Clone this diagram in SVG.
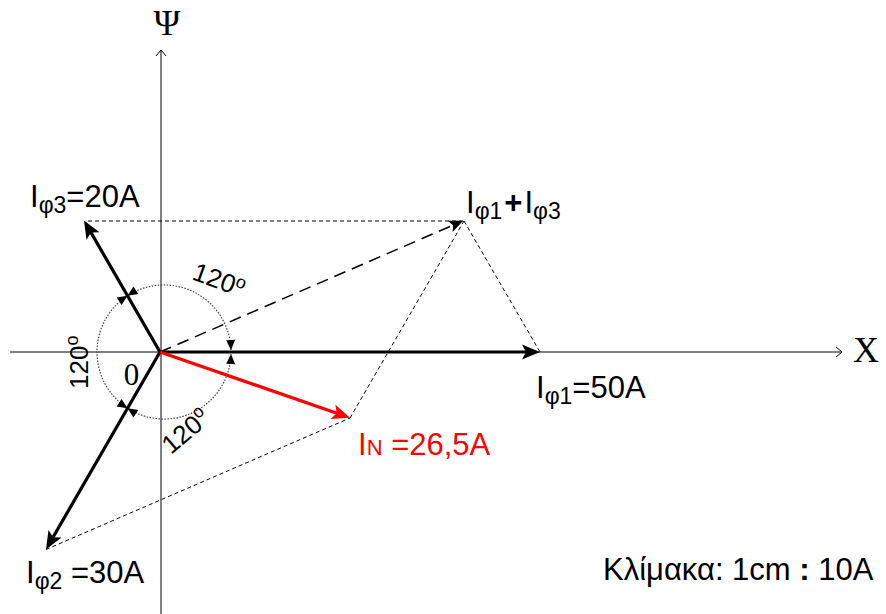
<svg xmlns="http://www.w3.org/2000/svg" width="886" height="614" viewBox="0 0 886 614">
<style>
.lbl{font-family:"Liberation Sans",Arial,sans-serif;font-size:31px;fill:#000}
.sub{font-size:23px}
.ang{font-family:"Liberation Sans",Arial,sans-serif;font-size:26px;fill:#000}
.deg{font-size:18px}
.ser{font-family:"Liberation Serif","Times New Roman",serif;fill:#000}
.axis{stroke:#000;stroke-width:1;fill:none}
.vec{stroke:#000;stroke-width:3.2;fill:none}
.red{stroke:#ff0000;stroke-width:3.2;fill:none}
.ldash{stroke:#000;stroke-width:1.5;stroke-dasharray:12,7;fill:none}
.sdash{stroke:#000;stroke-width:1;stroke-dasharray:4,3;fill:none}
.arc{stroke:#444;stroke-width:1.2;stroke-dasharray:1.5,1.5;fill:none}
</style>
<defs>
<marker id="ah" markerUnits="userSpaceOnUse" viewBox="-20 -10 22 20" markerWidth="22" markerHeight="20" refX="-10" refY="0" orient="auto">
<path d="M0,0 L-18,-7.5 L-14,0 L-18,7.5 z" fill="#000"/>
</marker>
<marker id="ahr" markerUnits="userSpaceOnUse" viewBox="-20 -10 22 20" markerWidth="22" markerHeight="20" refX="-10" refY="0" orient="auto">
<path d="M0,0 L-18,-7.5 L-14,0 L-18,7.5 z" fill="#ff0000"/>
</marker>
<marker id="ahs" markerUnits="userSpaceOnUse" viewBox="-16 -8 18 16" markerWidth="18" markerHeight="16" refX="-7" refY="0" orient="auto">
<path d="M0,0 L-14,-6 L-11,0 L-14,6 z" fill="#000"/>
</marker>
<marker id="aa" markerUnits="userSpaceOnUse" viewBox="-12 -6 14 12" markerWidth="14" markerHeight="12" refX="0" refY="0" orient="auto-start-reverse">
<path d="M0,0 L-10,-4.5 L-10,4.5 z" fill="#000"/>
</marker>
<marker id="open" markerUnits="userSpaceOnUse" viewBox="-10 -8 12 16" markerWidth="12" markerHeight="16" refX="0" refY="0" orient="auto">
<path d="M-6,-5 L0,0 L-6,5" fill="none" stroke="#000" stroke-width="1"/>
</marker>
</defs>
<g id="connectors">
<line class="axis" x1="10" y1="352" x2="842" y2="352" marker-end="url(#open)"/>
<line class="axis" x1="161" y1="614" x2="161" y2="50" marker-end="url(#open)"/>
<line class="sdash" x1="88" y1="221" x2="464" y2="221"/>
<line class="sdash" x1="464" y1="221" x2="540" y2="352"/>
<line class="sdash" x1="350" y1="418" x2="464" y2="221"/>
<line class="sdash" x1="46" y1="549.5" x2="350" y2="418"/>
<path class="arc" d="M231,350 A67,67 0 0 0 127.5,295.8" marker-start="url(#aa)" marker-end="url(#aa)"/>
<path class="arc" d="M127.5,295.8 A67,67 0 0 0 127.5,408.2" marker-start="url(#aa)" marker-end="url(#aa)"/>
<path class="arc" d="M127.5,408.2 A67,67 0 0 0 231,354" marker-start="url(#aa)" marker-end="url(#aa)"/>
<line class="ldash" x1="160" y1="352" x2="456.7" y2="223.6" marker-end="url(#ahs)"/>
<line class="vec" x1="160" y1="352" x2="530" y2="352" stroke-width="3.8" marker-end="url(#ah)"/>
<line class="vec" x1="160" y1="352" x2="89" y2="229.1" marker-end="url(#ah)"/>
<line class="vec" x1="160" y1="352" x2="51" y2="540.8" marker-end="url(#ah)"/>
<line class="red" x1="160" y1="352" x2="340.5" y2="414.5" marker-end="url(#ahr)"/>
</g>
<g id="axis-labels">
<text class="ser" x="167" y="35" font-size="36" text-anchor="middle">Ψ</text>
<text class="ser" x="853" y="362" font-size="36">X</text>
<text class="ser" x="131.5" y="385" font-size="31" text-anchor="middle">0</text>
</g>
<g id="angle-labels">
<text class="ang" transform="translate(191,279) rotate(20)">120<tspan class="deg" dy="-8">o</tspan></text>
<text class="ang" transform="translate(88,389) rotate(-90)">120<tspan class="deg" dy="-10">o</tspan></text>
<text class="ang" transform="translate(171,455) rotate(-40)">120<tspan class="deg" dy="-10">o</tspan></text>
</g>
<g id="I3">
<text class="lbl" x="30" y="207">I<tspan class="sub" dy="6">φ3</tspan><tspan dy="-6">=20A</tspan></text>
</g>
<g id="Isum">
<text class="lbl" x="466" y="213">I<tspan class="sub" dy="6">φ1</tspan><tspan dy="-6" dx="2" font-weight="bold">+</tspan><tspan dx="2">I</tspan><tspan class="sub" dy="6">φ3</tspan></text>
</g>
<g id="I1">
<text class="lbl" x="536" y="398">I<tspan class="sub" dy="6">φ1</tspan><tspan dy="-6">=50A</tspan></text>
</g>
<g id="IN">
<text class="lbl" x="358" y="455" style="fill:#ff0000">I<tspan font-size="22">N</tspan> =26,5A</text>
</g>
<g id="I2">
<text class="lbl" x="26" y="583">I<tspan class="sub" dy="6">φ2</tspan><tspan dy="-6"> =30A</tspan></text>
</g>
<g id="scale">
<text class="lbl" x="603" y="580">Κλίμακα: 1cm <tspan font-weight="bold">:</tspan> 10A</text>
</g>
</svg>
